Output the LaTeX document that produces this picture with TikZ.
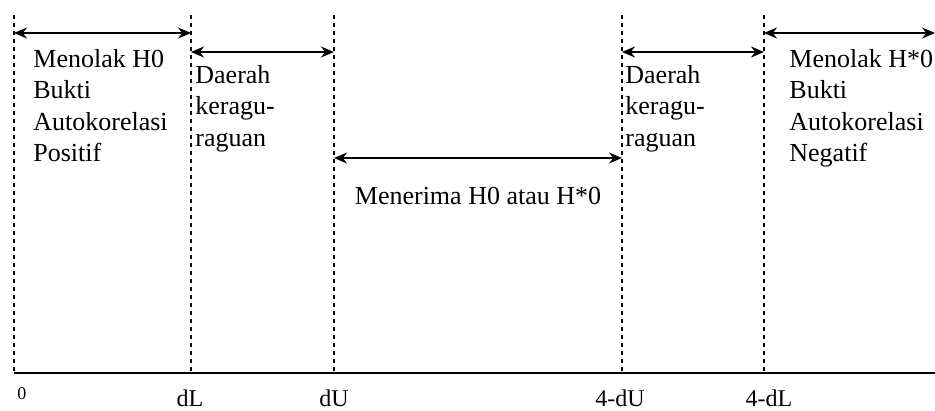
\documentclass[tikz,border=0pt]{standalone}
\usepackage{fontspec}
\setmainfont{Liberation Serif}
\usetikzlibrary{arrows.meta}
\begin{document}
\begin{tikzpicture}[x=0.5pt,y=-0.5pt,
        bound/.style={line width=0.6pt, dash pattern=on 2pt off 2pt},
        span/.style={line width=0.9pt, {Stealth[length=6.5pt,width=5.5pt]}-{Stealth[length=6.5pt,width=5.5pt]}},
        region/.style={font=\fontsize{13}{15.75}\selectfont, align=left, anchor=north west, inner sep=0pt},
        limit/.style={font=\fontsize{12}{14}\selectfont, anchor=base, inner sep=0pt}]
        \useasboundingbox (0,0) rectangle (935,411);
        \clip (0,0) rectangle (935,411);
        % Draw dashed borders of the regions
        \foreach \n/\x in {o/14, dl/191, du/334, udu/622, udl/764}{
            \coordinate (\n-top) at (\x,15);
            \coordinate (\n-hi) at (\x,33);
            \coordinate (\n-lo) at (\x,52);
            \coordinate (\n-mid) at (\x,158);
            \coordinate (\n) at (\x,373);
            \draw[bound] (\n-top) -- (\n);
        }
        \coordinate (edge-hi) at (935,33);
        \coordinate (edge) at (940,373);
        % Draw axis
        \draw[line width=0.9pt] (o) -- (edge);
        % Draw region arrows
        \draw[span] (o-hi) -- (dl-hi);
        \draw[span] (dl-lo) -- (du-lo);
        \draw[span] (du-mid) -- (udu-mid);
        \draw[span] (udu-lo) -- (udl-lo);
        \draw[span] (udl-hi) -- (edge-hi);
        % Region texts
        \node[region] (rejpos) at (33,49) {Menolak H0\\Bukti\\Autokorelasi\\Positif};
        \node[region] (doubtl) at (195,65) {Daerah\\keragu-\\raguan};
        \node[region, anchor=base] (accept) at (478,205) {Menerima H0 atau H*0};
        \node[region] (doubtr) at (625,65) {Daerah\\keragu-\\raguan};
        \node[region] (rejneg) at (789,49) {Menolak H*0\\Bukti\\Autokorelasi\\Negatif};
        % Add labels under the axis
        \node[limit, font=\fontsize{9}{11}\selectfont] (lab-o) at (22,399) {0};
        \foreach \x/\t in {190/dL, 334/dU, 620/4-dU, 769/4-dL}
            \node[limit] (lab-\t) at (\x,406) {\t};
    \end{tikzpicture}
\end{document}
